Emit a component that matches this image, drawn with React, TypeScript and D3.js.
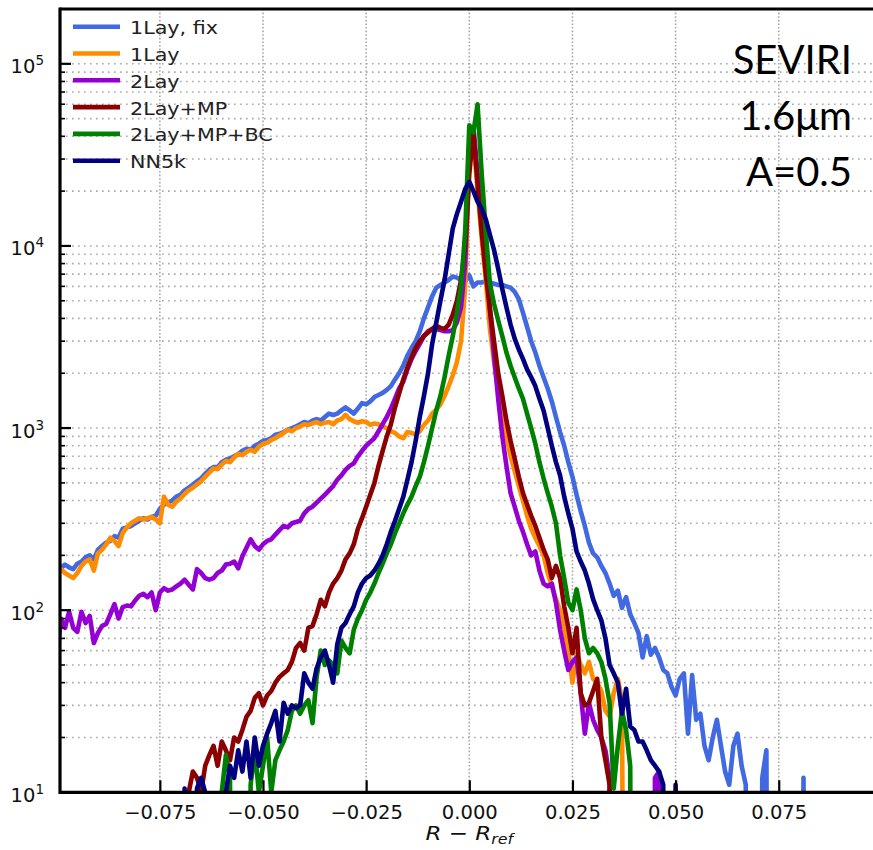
import React, { useEffect, useRef } from "react";
import * as d3 from "d3";

// histogram bins are 0.001 wide, each series is listed from its first bin
const binWidth = 0.001;

const fixStart = -0.1;
const fixCounts = [
  165, 170, 178, 172, 168, 180, 185, 195, 200, 190,
  215, 225, 235, 240, 255, 250, 280, 285, 290, 300,
  310, 320, 315, 325, 330, 360, 380, 390, 400, 420,
  430, 455, 470, 490, 510, 530, 560, 590, 610, 610,
  650, 670, 680, 700, 720, 750, 770, 760, 800, 820,
  850, 860, 880, 920, 930, 950, 980, 1000, 1020, 1050,
  1080, 1060, 1100, 1120, 1100, 1150, 1200, 1180, 1200, 1250,
  1300, 1250, 1200, 1280, 1370, 1350, 1400, 1480, 1520, 1560,
  1620, 1700, 1850, 2000, 2200, 2500, 2750, 3000, 3400, 4000,
  4600, 5300, 5900, 6100, 6300, 6500, 6800, 6700, 6500, 6400,
  6900, 6000, 6300, 6300, 6400, 6300, 6200, 6100, 6100, 6000,
  5900, 5600, 5100, 4300, 3600, 3000, 2600, 2200, 1900, 1650,
  1400, 1150, 950, 800, 650, 540, 430, 350, 290, 235,
  205, 195, 175, 160, 140, 120, 128, 103, 118, 95,
  85, 75, 55, 72, 57, 62, 55, 47, 45, 38,
  34, 42, 45, 21, 44, 25, 27, 18, 15, 20,
  25, 18, 13, 11, 18, 21, 14, 11, 0, 0,
  0, 12, 17, 0, 0, 0, 0, 0, 0, 0,
  0, 12, 0,
];

const oneLayStart = -0.1;
const oneLayCounts = [
  155, 168, 160, 155, 150, 160, 175, 185, 190, 165,
  205, 215, 230, 250, 240, 225, 265, 285, 300, 310,
  320, 315, 320, 325, 315, 300, 420, 380, 370, 395,
  410, 435, 455, 470, 490, 510, 540, 570, 600, 595,
  630, 660, 650, 690, 720, 710, 740, 760, 740, 790,
  820, 830, 860, 880, 910, 940, 980, 960, 1000, 1020,
  1050, 1040, 1060, 1080, 1050, 1070, 1080, 1050, 1100, 1120,
  1180, 1120, 1090, 1070, 1090, 1080, 1040, 1060, 1050, 1020,
  1000, 960, 940, 900, 880, 950, 940, 920, 960, 1040,
  1100, 1200, 1260, 1350, 1500, 1700, 1950, 2300, 3000, 6000,
  30000, 38000, 20000, 11000, 6500, 3500, 2300, 1600, 1200, 900,
  700, 580, 480, 400, 330, 280, 250, 225, 200, 160,
  135, 115, 100, 80, 60, 40, 58, 50, 45, 52,
  42, 40, 36, 28, 26, 35, 42, 32, 0,
];

const twoLayStart = -0.1;
const twoLayCounts = [
  50, 90, 80, 98, 80, 76, 98, 85, 93, 66,
  75, 82, 84, 95, 108, 90, 104, 106, 105, 113,
  120, 123, 118, 125, 100, 125, 132, 128, 130, 135,
  140, 147, 138, 130, 168, 160, 150, 147, 150, 160,
  165, 178, 180, 185, 170, 198, 220, 245, 225, 215,
  230, 240, 245, 260, 275, 290, 285, 300, 305, 310,
  340, 360, 370, 390, 410, 430, 455, 480, 520, 550,
  590, 620, 640, 700, 750, 800, 840, 880, 960, 1050,
  1150, 1280, 1450, 1650, 1800, 2100, 2400, 2650, 2900, 3200,
  3400, 3500, 3500, 3450, 3400, 3400, 3450, 3800, 4600, 8000,
  30000, 45000, 25000, 15000, 9000, 4500, 2500, 1450, 900, 620,
  440, 370, 310, 270, 230, 200, 210, 165, 140, 135,
  140, 110, 78, 60, 47, 52, 55, 35, 21, 31,
  25, 22, 20, 17, 12, 0, 0, 0, 0, 0,
  0, 0, 0, 0, 0, 12, 13, 0,
];

const mpStart = -0.069;
const mpCounts = [
  0, 10, 13, 12, 10, 14, 16, 18, 14,
  19, 17, 15, 20, 19, 22, 26, 28, 33, 35,
  30, 34, 36, 40, 43, 45, 47, 52, 62, 66,
  60, 80, 82, 95, 114, 105, 125, 140, 150, 165,
  190, 205, 230, 280, 320, 370, 430, 500, 620, 750,
  900, 1050, 1300, 1550, 1850, 2150, 2450, 2750, 3000, 3200,
  3350, 3500, 3650, 3550, 3500, 3700, 4200, 5000, 6500, 10000,
  25000, 42000, 22000, 12000, 7000, 4500, 3000, 2000, 1500, 1100,
  850, 680, 540, 440, 380, 330, 290, 250, 215, 190,
  150, 175, 150, 105, 80, 58, 80, 35, 30, 31,
  36, 42, 20, 15, 11, 0,
];

const bcStart = -0.061;
const bcCounts = [
  0,
  10, 16, 12, 0, 0, 0, 0, 11, 17, 10,
  14, 20, 10, 15, 17, 19, 22, 28, 30, 27,
  30, 32, 24, 43, 60, 50, 53, 50, 45, 68,
  62, 58, 78, 90, 100, 114, 125, 140, 160, 180,
  205, 230, 265, 300, 340, 380, 420, 480, 540, 650,
  800, 1000, 1250, 1500, 1900, 2500, 3200, 4300, 6000, 12000,
  46000, 42000, 60000, 25000, 12000, 6200, 4800, 3900, 3200, 2600,
  2200, 1900, 1650, 1450, 1200, 1000, 820, 650, 530, 440,
  370, 300, 200, 150, 110, 100, 130, 100, 70, 58,
  62, 58, 52, 42, 31, 10.5, 18, 28, 22, 14,
  0,
];

const nnStart = -0.07;
const nnCounts = [
  0, 10.5, 0, 0, 10.5, 12, 10, 0, 0, 0,
  0, 10, 14, 12, 17, 13, 19, 12, 20, 14,
  18, 21, 24, 28, 19, 31, 27, 30, 29, 30,
  45, 40, 37, 48, 55, 60, 50, 40, 65, 80,
  85, 95, 105, 125, 140, 150, 155, 165, 180, 200,
  230, 270, 310, 360, 420, 520, 650, 850, 1150, 1500,
  2000, 2900, 3800, 5000, 6500, 9000, 12500, 15000, 17500, 20500,
  22500, 20000, 17500, 16000, 14000, 11500, 9500, 7500, 5800, 4600,
  3700, 3100, 2700, 2400, 2100, 1900, 1700, 1450, 1250, 1000,
  800, 650, 550, 420, 340, 280, 210, 185, 165, 140,
  115, 100, 88, 70, 50, 45, 40, 27, 37, 23,
  22, 19, 19, 17, 15, 14, 13, 11, 0, 0,
  11, 0,
];

const seriesNames = ["1Lay, fix", "1Lay", "2Lay", "2Lay+MP", "2Lay+MP+BC", "NN5k"];
const seriesColors = ["#4169e1", "#ff8c00", "#9400d3", "#8b0000", "#008000", "#000080"];
const seriesStarts = [fixStart, oneLayStart, twoLayStart, mpStart, bcStart, nnStart];
const seriesCounts = [fixCounts, oneLayCounts, twoLayCounts, mpCounts, bcCounts, nnCounts];

const xTicks = [-0.075, -0.05, -0.025, 0, 0.025, 0.05, 0.075];
const yMajorTicks = [1e1, 1e2, 1e3, 1e4, 1e5];
const yExponents = ["1", "2", "3", "4", "5"];
const annotation = ["SEVIRI", "1.6μm", "A=0.5"];

type Pt = { x: number; c: number };

export default function App() {
  const svgRef = useRef<SVGSVGElement>(null);

  useEffect(() => {
    const svg = d3.select(svgRef.current);
    svg.selectAll("*").remove();

    const left = 60;
    const right = 878.6;
    const top = 9;
    const bottom = 792.3;
    const font = "DejaVu Sans, sans-serif";

    const x = d3.scaleLinear().domain([-0.0992, 0.0992]).range([left, right]);
    const y = d3.scaleLog().domain([10, 2e5]).range([bottom, top]);

    svg
      .append("defs")
      .append("clipPath")
      .attr("id", "plotArea")
      .append("rect")
      .attr("x", left)
      .attr("y", top)
      .attr("width", right - left)
      .attr("height", bottom - top);

    // grid
    const grid = svg.append("g");
    grid
      .selectAll(".hgrid")
      .data(y.ticks())
      .join("line")
      .attr("class", "hgrid")
      .attr("x1", left)
      .attr("x2", right)
      .attr("y1", (d) => y(d))
      .attr("y2", (d) => y(d))
      .attr("stroke", "#a8a8a8")
      .attr("stroke-width", 1.6)
      .attr("stroke-dasharray", "1.6,4.4");
    grid
      .selectAll(".vgrid")
      .data(xTicks)
      .join("line")
      .attr("class", "vgrid")
      .attr("x1", (d) => x(d))
      .attr("x2", (d) => x(d))
      .attr("y1", top)
      .attr("y2", bottom)
      .attr("stroke", "#a8a8a8")
      .attr("stroke-width", 1.6)
      .attr("stroke-dasharray", "1.6,2");

    // histogram lines, zero bins drop off the bottom like matplotlib's clip
    const lineGen = d3
      .line<Pt>()
      .x((d) => x(d.x))
      .y((d) => y(Math.max(d.c, 1e-3)));

    const series = seriesNames.map((name, k) => ({
      name,
      color: seriesColors[k],
      points: seriesCounts[k].map((c, j) => ({ x: seriesStarts[k] + j * binWidth, c })),
    }));

    svg
      .append("g")
      .attr("clip-path", "url(#plotArea)")
      .selectAll(".histLine")
      .data(series)
      .join("path")
      .attr("class", "histLine")
      .attr("fill", "none")
      .attr("stroke", (d) => d.color)
      .attr("stroke-width", 4.6)
      .attr("stroke-linejoin", "round")
      .attr("d", (d) => lineGen(d.points));

    // x axis, ticks pointing in
    const xAxis = d3
      .axisBottom(x)
      .tickValues(xTicks)
      .tickFormat(d3.format(".3f") as any)
      .tickSize(-12)
      .tickSizeOuter(0);
    const gx = svg.append("g").attr("transform", `translate(0, ${bottom})`).call(xAxis);
    gx.select(".domain").remove();
    gx.selectAll(".tick line").attr("stroke", "#000").attr("stroke-width", 2.2);
    gx.selectAll(".tick text")
      .attr("y", 26.5)
      .attr("dy", null)
      .attr("fill", "#111")
      .attr("font-family", font)
      .attr("font-size", 19)
      .attr("transform", "scale(1.03,1)");

    // y axis: majors + minors, ticks pointing in
    const gy = svg.append("g");
    gy.selectAll(".minor")
      .data(y.ticks().filter((v) => !yMajorTicks.includes(v)))
      .join("line")
      .attr("class", "minor")
      .attr("x1", left)
      .attr("x2", left + 5)
      .attr("y1", (d) => y(d))
      .attr("y2", (d) => y(d))
      .attr("stroke", "#000")
      .attr("stroke-width", 1.6);
    gy.selectAll(".major")
      .data(yMajorTicks)
      .join("line")
      .attr("class", "major")
      .attr("x1", left)
      .attr("x2", left + 11)
      .attr("y1", (d) => y(d))
      .attr("y2", (d) => y(d))
      .attr("stroke", "#000")
      .attr("stroke-width", 2.2);
    const ylab = gy
      .selectAll(".ylab")
      .data(yMajorTicks)
      .join("text")
      .attr("class", "ylab")
      .attr("x", 44)
      .attr("y", (d) => y(d) + 9.5)
      .attr("text-anchor", "end")
      .attr("font-family", font)
      .attr("font-size", 19.5)
      .attr("fill", "#111");
    ylab.append("tspan").text("10");
    ylab
      .append("tspan")
      .attr("dy", -8)
      .attr("font-size", 13.5)
      .text((d, i) => yExponents[i]);

    // spines
    const spines = svg.append("g").attr("stroke", "#000").attr("stroke-width", 3.2);
    spines.append("line").attr("x1", left).attr("x2", left).attr("y1", top - 1.6).attr("y2", bottom + 1.6);
    spines.append("line").attr("x1", left).attr("x2", right).attr("y1", bottom).attr("y2", bottom);
    spines.append("line").attr("x1", left).attr("x2", right).attr("y1", top).attr("y2", top);

    // x label
    const xl = svg
      .append("g")
      .attr("transform", `translate(${x(0)}, 840) scale(1.18,1)`)
      .append("text")
      .attr("text-anchor", "middle")
      .attr("font-family", font)
      .attr("font-size", 19.5)
      .attr("fill", "#111")
      .style("white-space", "pre");
    xl.append("tspan").attr("font-style", "italic").text("R");
    xl.append("tspan").text(" \u2212 ");
    xl.append("tspan").attr("font-style", "italic").text("R");
    xl.append("tspan").attr("font-style", "italic").attr("font-size", 13.5).attr("dy", 4).text("ref");

    // legend
    const legend = svg
      .append("g")
      .selectAll(".legendRow")
      .data(series)
      .join("g")
      .attr("class", "legendRow")
      .attr("transform", (d, i) => `translate(0, ${26.7 + i * 26.8})`);
    legend
      .append("line")
      .attr("x1", 73)
      .attr("x2", 120)
      .attr("stroke", (d) => d.color)
      .attr("stroke-width", 4.6);
    legend
      .append("text")
      .attr("transform", "translate(130, 7.5) scale(1.15,1)")
      .attr("font-family", font)
      .attr("font-size", 18)
      .attr("fill", "#222")
      .text((d) => d.name);

    // annotation in the corner
    svg
      .append("g")
      .selectAll(".note")
      .data(annotation)
      .join("text")
      .attr("class", "note")
      .attr("x", 852)
      .attr("y", (d, i) => 74 + i * 56)
      .attr("text-anchor", "end")
      .attr("font-family", "Lato, 'Open Sans', sans-serif")
      .attr("font-size", 40)
      .attr("fill", "#000")
      .text((d) => d);
  }, []);

  return (
    <svg
      ref={svgRef}
      width={873}
      height={850}
      style={{ position: "absolute", left: 0, top: 0, background: "#fff" }}
    />
  );
}
